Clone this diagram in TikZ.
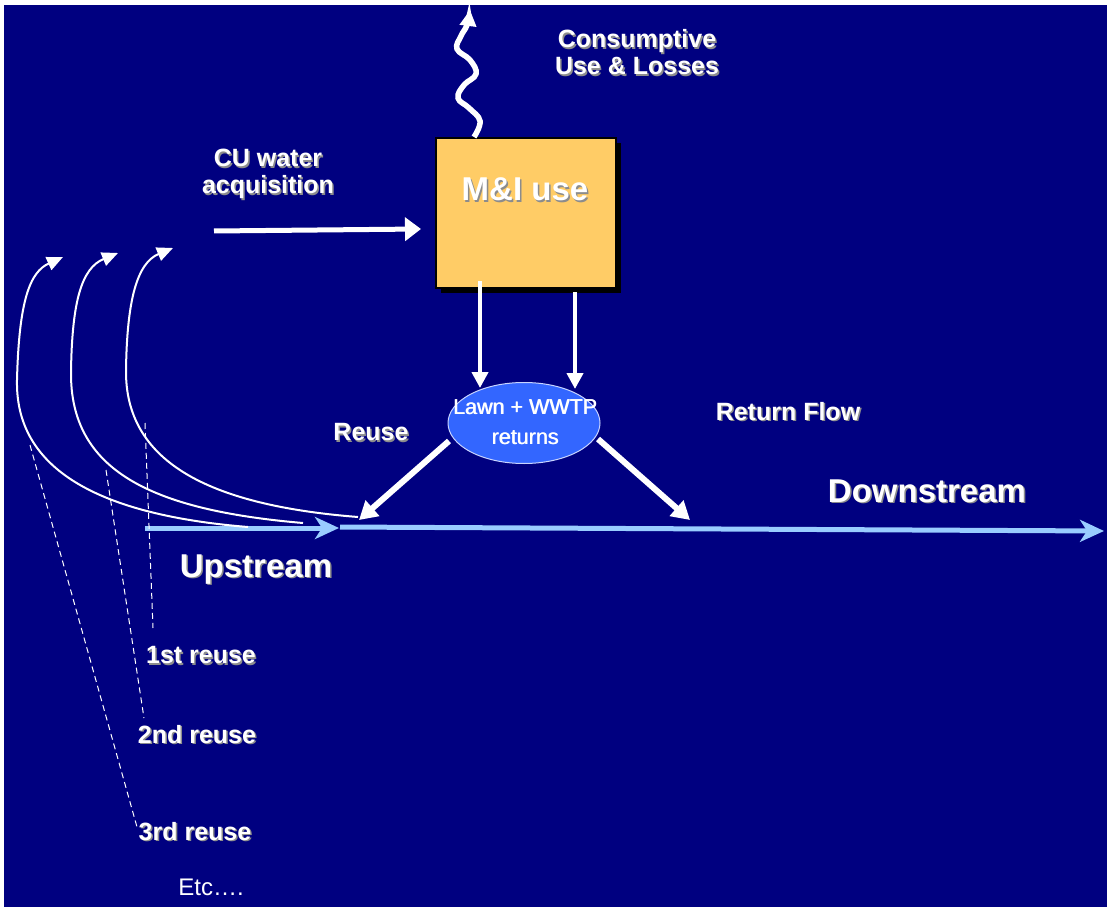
\documentclass[tikz,border=0pt]{standalone}
\usepackage{fontspec}
\setmainfont{Liberation Sans}
\usetikzlibrary{arrows.meta,shapes.geometric}
\definecolor{navybg}{HTML}{000080}
\definecolor{boxfill}{HTML}{FFCC66}
\definecolor{ellfill}{HTML}{3366FF}
\definecolor{ellline}{HTML}{C8D4FF}
\definecolor{riverblue}{HTML}{99CCFF}
\definecolor{shadowgray}{HTML}{8C8C8C}
\newcommand\shd[1]{\leavevmode\rlap{\hspace{1.5pt}\raisebox{-1.5pt}{\textcolor{shadowgray}{#1}}}#1}
\newcommand\thk[1]{\leavevmode\rlap{\hspace{0.6pt}#1}#1}
\begin{document}
\begin{tikzpicture}[x=1pt,y=-1pt,
  lbl/.style={text=white,font=\bfseries\fontsize{25}{27}\selectfont,align=center,inner sep=0pt},
  biglbl/.style={text=white,font=\bfseries\fontsize{33}{36}\selectfont,inner sep=0pt},
  plainlbl/.style={text=white,font=\fontsize{24}{27}\selectfont,inner sep=0pt},
  elllbl/.style={text=white,font=\fontsize{21.5}{30}\selectfont,align=center,inner sep=0pt},
  usebox/.style={draw=black,line width=1.5pt,fill=boxfill,minimum width=180pt,minimum height=150pt,inner sep=0pt},
  boxshadow/.style={fill=black},
  ellnode/.style={ellipse,draw=ellline,line width=1pt,fill=ellfill,minimum width=152pt,minimum height=81pt,inner sep=0pt},
  cuarrow/.style={draw=white,line width=5pt,-{Triangle[width=23pt,length=16pt]}},
  downarrow/.style={draw=white,line width=4pt,-{Triangle[width=16pt,length=16pt]}},
  diagarrow/.style={draw=white,line width=6pt,-{Triangle[width=20pt,length=18pt]}},
  curvearrow/.style={draw=white,line width=2pt,-{Triangle[width=14pt,length=16pt]}},
  wavearrow/.style={draw=white,line width=5.5pt,-{Triangle[width=16pt,length=16pt]}},
  riverline/.style={draw=riverblue,line width=5pt,-{Stealth[width=22pt,length=24pt,inset=7pt]}},
  guide/.style={draw=white,line width=1pt,dash pattern=on 6pt off 4pt}]
\useasboundingbox (0,0) rectangle (1110,909);
\fill[white] (0,0) rectangle (1110,909);
\fill[navybg] (4,5) rectangle (1107,907);

% M&I box with shadow
\fill[boxshadow] (441,143) rectangle (621,293);
\node[usebox] (mi) at (526,213) {};
\node[biglbl] (milabel) at (525,190) {\shd{M\&I use}};

% ellipse
\node[ellnode] (lawn) at (524,423) {};
\node[elllbl] (lawntext) at (525,422) {\thk{Lawn + WWTP}\\\thk{returns}};

% labels
\node[lbl] (consump) at (637,53) {\shd{Consumptive}\\\shd{Use \& Losses}};
\node[lbl] (cuacq) at (268,175) {\shd{CU water}\\\shd{acquisition}};
\node[lbl] (reuse) at (371,433) {\shd{Reuse}};
\node[lbl] (retflow) at (788,412) {\shd{Return Flow}};
\node[biglbl] (down) at (927,492) {\shd{Downstream}};
\node[biglbl] (up) at (256,570) {\shd{Upstream}};
\node[lbl] (r1) at (201,656) {\shd{1st reuse}};
\node[lbl] (r2) at (197,735) {\shd{2nd reuse}};
\node[lbl] (r3) at (195,832) {\shd{3rd reuse}};
\node[plainlbl] (etc) at (211,887) {Etc\dots.};

% coordinates
\coordinate (cuS) at (214,231);
\coordinate (cuE) at (421,229);
\coordinate (d1S) at (480,281);
\coordinate (d1E) at (480,388);
\coordinate (d2S) at (575,292);
\coordinate (d2E) at (575,389);
\coordinate (reuseS) at (449,441);
\coordinate (reuseE) at (359,520);
\coordinate (retS) at (598,439);
\coordinate (retE) at (690,520);
\coordinate (upS) at (145,528);
\coordinate (upE) at (339,528);
\coordinate (dnS) at (340,527);
\coordinate (dnE) at (1104,531);
\coordinate (cAs) at (248,527);
\coordinate (cAt) at (63,257);
\coordinate (cBs) at (303,523);
\coordinate (cBt) at (118,253);
\coordinate (cCs) at (358,517);
\coordinate (cCt) at (173,248);
\coordinate (g1a) at (145,423);
\coordinate (g1b) at (153,628);
\coordinate (g2a) at (106,470);
\coordinate (g2b) at (144,718);
\coordinate (g3a) at (30,445);
\coordinate (g3b) at (137,827);

% river
\draw[riverline] (upS) -- (upE);
\draw[riverline] (dnS) -- (dnE);

% guides
\draw[guide] (g1a) -- (g1b);
\draw[guide] (g2a) -- (g2b);
\draw[guide] (g3a) -- (g3b);

% curved reuse arrows
\draw[curvearrow] (cAs) .. controls (100,515) and (15,470) .. (17,380)
                        .. controls (19,300) and (30,272) .. (cAt);
\draw[curvearrow] (cBs) .. controls (150,510) and (70,470) .. (71,372)
                        .. controls (72,300) and (82,268) .. (cBt);
\draw[curvearrow] (cCs) .. controls (205,505) and (125,460) .. (126,370)
                        .. controls (127,300) and (137,263) .. (cCt);

% straight arrows
\draw[cuarrow] (cuS) -- (cuE);
\draw[downarrow] (d1S) -- (d1E);
\draw[downarrow] (d2S) -- (d2E);
\draw[diagarrow] (reuseS) -- (reuseE);
\draw[diagarrow] (retS) -- (retE);

% wavy consumptive-use arrow
\draw[wavearrow] plot[smooth,tension=0.7] coordinates {(474,137) (480,121) (469,108) (458,98) (464,85) (476,74) (470,60) (457,49) (461,36) (467,25) (470,10)};
\end{tikzpicture}
\end{document}
